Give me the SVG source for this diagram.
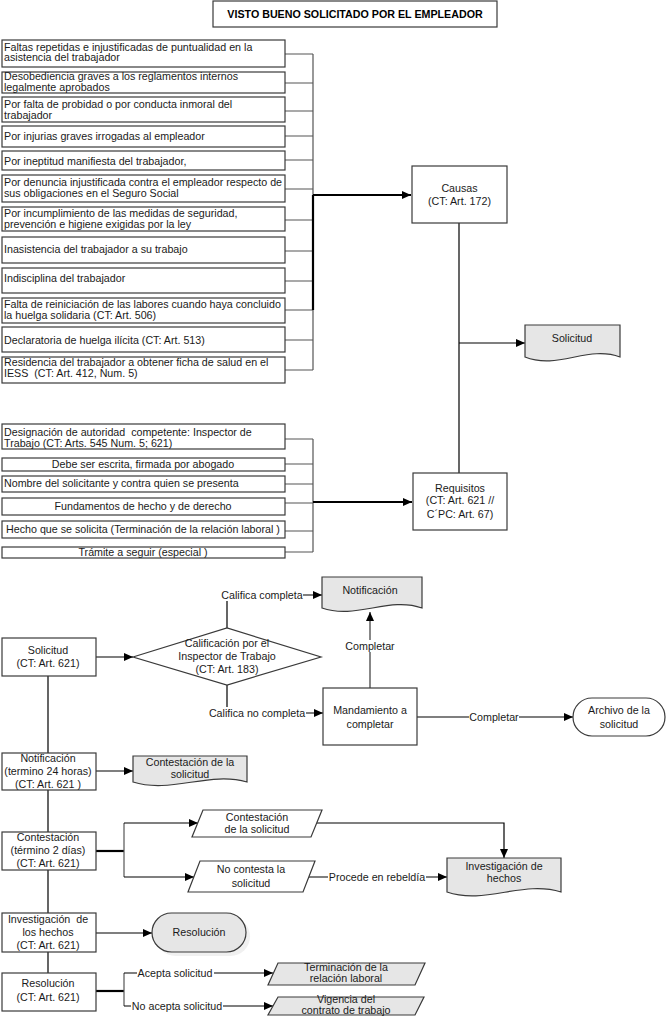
<svg xmlns="http://www.w3.org/2000/svg" width="667" height="1018" viewBox="0 0 667 1018" xml:space="preserve">
<defs>
<marker id="arr" markerUnits="userSpaceOnUse" markerWidth="9" markerHeight="8" refX="9" refY="4" orient="auto"><path d="M0,0 L9,4 L0,8 z" fill="#000"/></marker>
<style>
text{font-family:"Liberation Sans",Arial,sans-serif;font-size:10.7px;fill:#1a1a1a;white-space:pre}
.c{text-anchor:middle}
.t{font-weight:bold;font-size:10.7px;fill:#000}
.box{fill:#fff;stroke:#3a3a3a;stroke-width:1.2}
.doc{fill:#e6e6e6;stroke:#3a3a3a;stroke-width:1.2}
.ln{fill:none;stroke:#555;stroke-width:1.2}
.dk{fill:none;stroke:#000;stroke-width:1.2}
.th{fill:none;stroke:#000;stroke-width:2.2}
.lb{fill:#fff}
</style>
</defs>
<rect width="667" height="1018" fill="#fff"/>
<g id="title"><rect class="box" x="213" y="1" width="284" height="26"/><text class="t c" x="355" y="18">VISTO BUENO SOLICITADO POR EL EMPLEADOR</text></g>
<g id="connectors">
<path class="ln" d="M285,54 H313 M285,83 H313 M285,111 H313 M285,136 H313 M285,160 H313 M285,189 H313 M285,220 H313 M285,251 H313 M285,281 H313 M285,310 H313 M285,340 H313 M285,370 H313 M313,54 V370"/>
<path class="th" d="M313,195 V310"/>
<path class="th" d="M313,195 H411" marker-end="url(#arr)"/>
<path class="dk" d="M459,223 V473"/>
<path class="dk" d="M459,343 H525" marker-end="url(#arr)"/>
<path class="ln" d="M285,439 H313 M285,464 H313 M285,484 H313 M285,503 H313 M285,531 H313 M285,552 H313 M313,439 V552"/>
<path class="th" d="M313,502 H412" marker-end="url(#arr)"/>
<path class="dk" d="M48,676 V753 M48,790 V832 M48,870 V913 M48,952 V973"/>
<path class="dk" d="M96,657 H133" marker-end="url(#arr)"/>
<path class="dk" d="M227,628 V595 H322" marker-end="url(#arr)"/>
<path class="dk" d="M227,685 V713 H323" marker-end="url(#arr)"/>
<path d="M370,688 V612" fill="none" stroke="#7a7a7a" stroke-width="1.8" marker-end="url(#arr)"/>
<path class="dk" d="M417,717 H573" marker-end="url(#arr)"/>
<path class="dk" d="M96,771 H133" marker-end="url(#arr)"/>
<path class="th" d="M96,851 H124"/>
<path class="ln" d="M124,823 V877"/>
<path class="dk" d="M124,823 H198" marker-end="url(#arr)"/>
<path class="dk" d="M124,877 H194" marker-end="url(#arr)"/>
<path class="dk" d="M317,823 H504 V858" marker-end="url(#arr)"/>
<path class="dk" d="M309,877 H447" marker-end="url(#arr)"/>
<path class="dk" d="M96,933 H152" marker-end="url(#arr)"/>
<path class="th" d="M96,991 H124"/>
<path class="ln" d="M124,973 V1006"/>
<path class="dk" d="M124,973 H273" marker-end="url(#arr)"/>
<path class="dk" d="M124,1006 H273" marker-end="url(#arr)"/>
<rect class="lb" x="221" y="589" width="82" height="12"/>
<text class="c" x="262" y="598.5">Califica completa</text>
<rect class="lb" x="208" y="707" width="98" height="12"/>
<text class="c" x="257" y="716.5">Califica no completa</text>
<rect class="lb" x="345" y="640" width="50" height="12"/>
<text class="c" x="370" y="649.5">Completar</text>
<rect class="lb" x="469" y="711" width="50" height="12"/>
<text class="c" x="494" y="720.5">Completar</text>
<rect class="lb" x="328" y="871" width="98" height="12"/>
<text class="c" x="377" y="880.5">Procede en rebeldía</text>
<rect class="lb" x="137" y="967" width="77" height="12"/>
<text class="c" x="175" y="976.5">Acepta solicitud</text>
<rect class="lb" x="131" y="1000" width="92" height="12"/>
<text class="c" x="177" y="1009.5">No acepta solicitud</text>
</g>
<g id="causa1"><rect class="box" x="2" y="40" width="283" height="27"/><text x="4" y="50.5">Faltas repetidas e injustificadas de puntualidad en la</text><text x="4" y="61">asistencia del trabajador</text></g>
<g id="causa2"><rect class="box" x="2" y="72" width="283" height="21"/><text x="4" y="79.5">Desobediencia graves a los reglamentos internos</text><text x="4" y="90.5">legalmente aprobados</text></g>
<g id="causa3"><rect class="box" x="2" y="97" width="283" height="25"/><text x="4" y="108">Por falta de probidad o por conducta inmoral del</text><text x="4" y="119">trabajador</text></g>
<g id="causa4"><rect class="box" x="2" y="126" width="283" height="21"/><text x="4" y="140">Por injurias graves irrogadas al empleador</text></g>
<g id="causa5"><rect class="box" x="2" y="151" width="283" height="19"/><text x="4" y="165">Por ineptitud manifiesta del trabajador,</text></g>
<g id="causa6"><rect class="box" x="2" y="175" width="283" height="27"/><text x="4" y="185.5">Por denuncia injustificada contra el empleador respecto de</text><text x="4" y="196.5">sus obligaciones en el Seguro Social</text></g>
<g id="causa7"><rect class="box" x="2" y="207" width="283" height="24"/><text x="4" y="217">Por incumplimiento de las medidas de seguridad,</text><text x="4" y="228">prevención e higiene exigidas por la ley</text></g>
<g id="causa8"><rect class="box" x="2" y="237" width="283" height="26"/><text x="4" y="253">Inasistencia del trabajador a su trabajo</text></g>
<g id="causa9"><rect class="box" x="2" y="268" width="283" height="25"/><text x="4" y="282">Indisciplina del trabajador</text></g>
<g id="causa10"><rect class="box" x="2" y="298" width="283" height="25"/><text x="4" y="308">Falta de reiniciación de las labores cuando haya concluido</text><text x="4" y="319">la huelga solidaria (CT: Art. 506)</text></g>
<g id="causa11"><rect class="box" x="2" y="327" width="283" height="25"/><text x="4" y="344">Declaratoria de huelga ilícita (CT: Art. 513)</text></g>
<g id="causa12"><rect class="box" x="2" y="357" width="283" height="26"/><text x="4" y="366">Residencia del trabajador a obtener ficha de salud en el</text><text x="4" y="377">IESS  (CT: Art. 412, Num. 5)</text></g>
<g id="causas"><rect class="box" x="412" y="166" width="95" height="57"/><text class="c" x="459.5" y="191.5">Causas</text><text class="c" x="459.5" y="204.5">(CT: Art. 172)</text></g>
<g id="solicitud-doc"><path class="doc" d="M525,325 H620 V357 C588,345 558,370 525,357 Z"/><text class="c" x="572" y="341.5">Solicitud</text></g>
<g id="req1"><rect class="box" x="2" y="424" width="283" height="25"/><text x="4" y="436">Designación de autoridad  competente: Inspector de</text><text x="4" y="447">Trabajo (CT: Arts. 545 Num. 5; 621)</text></g>
<g id="req2"><rect class="box" x="2" y="458" width="283" height="13"/><text class="c" x="143" y="467.5">Debe ser escrita, firmada por abogado</text></g>
<g id="req3"><rect class="box" x="2" y="476" width="283" height="16"/><text x="4" y="487">Nombre del solicitante y contra quien se presenta</text></g>
<g id="req4"><rect class="box" x="2" y="498" width="283" height="17"/><text class="c" x="143" y="509.5">Fundamentos de hecho y de derecho</text></g>
<g id="req5"><rect class="box" x="2" y="521" width="283" height="17"/><text class="c" x="143" y="533">Hecho que se solicita (Terminación de la relación laboral )</text></g>
<g id="req6"><rect class="box" x="2" y="547" width="283" height="11"/><text class="c" x="143" y="555.5">Trámite a seguir (especial )</text></g>
<g id="requisitos"><rect class="box" x="413" y="473" width="94" height="57"/><text class="c" x="460" y="491.5">Requisitos</text><text class="c" x="460" y="504">(CT: Art. 621 //</text><text class="c" x="460" y="518">C´PC: Art. 67)</text></g>
<g id="solicitud"><rect class="box" x="2" y="638" width="94" height="38"/><text class="c" x="48" y="653.5">Solicitud</text><text class="c" x="48" y="666.5">(CT: Art. 621)</text></g>
<g id="calificacion"><path class="box" d="M133,657 L227,628 L321,657 L227,685 Z"/><text class="c" x="227" y="646.5">Calificación por el</text><text class="c" x="227" y="659.5">Inspector de Trabajo</text><text class="c" x="227" y="672.5">(CT: Art. 183)</text></g>
<g id="notificacion-doc"><path class="doc" d="M322,577 H422 V608 C389,596 356,620 322,608 Z"/><text class="c" x="370" y="593.5">Notificación</text></g>
<g id="mandamiento"><rect class="box" x="323" y="688" width="94" height="57"/><text class="c" x="370" y="713.5">Mandamiento a</text><text class="c" x="370" y="727.5">completar</text></g>
<g id="archivo"><rect class="box" x="573" y="698" width="92" height="38" rx="19" ry="19"/><text class="c" x="619" y="713.5">Archivo de la</text><text class="c" x="619" y="727.5">solicitud</text></g>
<g id="notificacion"><rect class="box" x="2" y="753" width="94" height="37"/><text class="c" x="48" y="761.5">Notificación</text><text class="c" x="48" y="774.5">(termino 24 horas)</text><text class="c" x="48" y="787.5">(CT: Art. 621 )</text></g>
<g id="contestacion-doc"><path class="doc" d="M133,756 H247 V782 C209,771 171,794 133,782 Z"/><text class="c" x="190" y="765.5">Contestación de la</text><text class="c" x="190" y="777.5">solicitud</text></g>
<g id="contestacion"><rect class="box" x="2" y="832" width="94" height="38"/><text class="c" x="48" y="841">Contestación</text><text class="c" x="48" y="854">(término 2 días)</text><text class="c" x="48" y="867">(CT: Art. 621)</text></g>
<g id="contesta-io"><path class="box" d="M203,810 H322 L311,837 H192 Z"/><text class="c" x="257" y="820.5">Contestación</text><text class="c" x="257" y="832.5">de la solicitud</text></g>
<g id="nocontesta-io"><path class="box" d="M200,861 H315 L303,892 H188 Z"/><text class="c" x="251" y="872.5">No contesta la</text><text class="c" x="251" y="886.5">solicitud</text></g>
<g id="investigacion-doc"><path class="doc" d="M447,858 H561 V892 C523,880 485,905 447,892 Z"/><text class="c" x="504" y="869.5">Investigación de</text><text class="c" x="504" y="881.5">hechos</text></g>
<g id="investigacion"><rect class="box" x="2" y="913" width="94" height="39"/><text class="c" x="48" y="922.5">Investigación  de</text><text class="c" x="48" y="935.5">los hechos</text><text class="c" x="48" y="948.5">(CT: Art. 621)</text></g>
<g id="resolucion-term"><rect x="156" y="917" width="94" height="39" rx="19.5" fill="#f0f0f0"/><rect class="doc" x="152" y="913" width="94" height="39" rx="19.5" ry="19.5"/><text class="c" x="199" y="935.5">Resolución</text></g>
<g id="resolucion"><rect class="box" x="2" y="973" width="94" height="38"/><text class="c" x="48" y="986.5">Resolución</text><text class="c" x="48" y="1000.5">(CT: Art. 621)</text></g>
<g id="terminacion"><path class="doc" d="M278,963 H425 L415,985 H268 Z"/><text class="c" x="346" y="970.5">Terminación de la</text><text class="c" x="346" y="981.5">relación laboral</text></g>
<g id="vigencia"><path class="doc" d="M278,997 H424 L415,1015 H268 Z"/><text class="c" x="346" y="1002.5">Vigencia del</text><text class="c" x="346" y="1013.5">contrato de trabajo</text></g>
</svg>
